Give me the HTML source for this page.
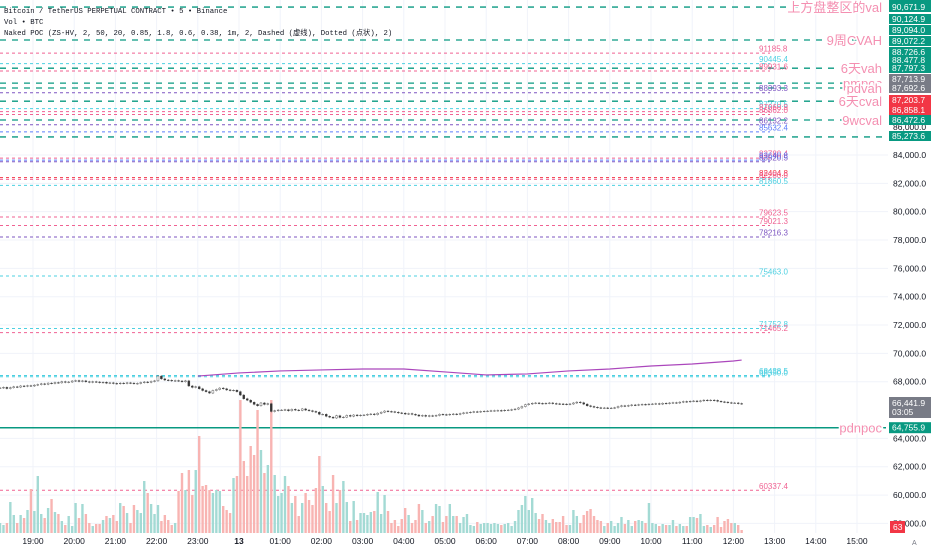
<!DOCTYPE html>
<html><head><meta charset="utf-8">
<style>
html,body{margin:0;padding:0;background:#fff;width:932px;height:550px;overflow:hidden}
svg{display:block;font-family:"Liberation Sans","Noto Sans CJK SC",sans-serif}
</style></head>
<body>
<svg id="chart" width="932" height="550" viewBox="0 0 932 550" xmlns="http://www.w3.org/2000/svg">
<g id="grid"></g>
<g id="levels"></g>
<g id="vol"></g>
<g id="vwap"></g>
<g id="candles"></g>
<g id="rtext"></g>
<g id="axis"></g>
<g id="taxis"></g>
<g font-family="Liberation Mono,Noto Sans CJK SC,monospace" font-size="7.3" fill="#131722">
<text x="4" y="13">Bitcoin / TetherUS PERPETUAL CONTRACT • 5 • Binance</text>
<text x="4" y="24">Vol • BTC</text>
<text x="4" y="35">Naked POC (ZS-HV, 2, 50, 20, 0.85, 1.8, 0.6, 0.38, 1m, 2, Dashed (虚线), Dotted (点状), 2)</text>
</g>
</svg>
<script>
const closes=[67560,67600,67520,67580,67640,67620,67700,67680,67720,67700,
67760,67800,67850,67820,67900,67880,67940,67920,68000,67960,67980,68050,
68080,68020,68060,68000,67960,68000,67980,67940,67960,67900,67920,67880,
67860,67900,67880,67920,67900,67860,67880,67940,67980,67960,68020,68060,
68400,68200,68120,68100,68060,68080,68050,68000,68060,67700,67600,67650,
67500,67380,67300,67200,67380,67450,67550,67500,67420,67380,67400,67300,
67060,66800,66700,66550,66400,66300,66500,66400,66450,65900,65950,66000,
66000,66020,65950,66050,66000,65980,66080,66000,65950,65900,65850,65700,
65700,65560,65500,65440,65600,65480,65500,65620,65560,65650,65600,65640,
65650,65700,65720,65680,65780,65850,65930,65900,65880,65850,65800,65780,
65720,65750,65700,65650,65580,65620,65560,65600,65580,65620,65700,65680,
65660,65700,65720,65700,65750,65800,65820,65850,65880,65870,65900,65920,
65930,65950,65960,65970,65950,65990,66000,66030,66070,66150,66250,66380,
66430,66480,66500,66470,66450,66480,66500,66460,66440,66430,66420,66400,
66430,66500,66560,66520,66420,66300,66250,66200,66160,66140,66150,66140,
66140,66160,66250,66300,66280,66320,66360,66350,66380,66400,66380,66420,
66430,66450,66420,66480,66460,66500,66520,66500,66560,66600,66580,66620,
66640,66600,66650,66700,66680,66700,66680,66620,66580,66560,66520,66500,
66500,66460,66441.9];
const volumes=[100,80,100,310,180,100,180,150,230,440,
220,570,190,150,250,340,210,190,120,80,170,70,
300,150,290,190,100,70,90,90,130,170,150,180,
120,300,270,200,100,280,230,200,520,400,290,190,
280,120,180,130,80,100,420,600,430,630,380,630,
970,470,480,430,400,430,420,270,230,200,550,570,
1330,720,570,870,780,1230,830,600,680,1330,580,370,
400,570,470,300,370,170,300,400,330,280,450,770,
470,300,220,580,300,430,520,310,120,320,130,200,
200,180,210,220,410,190,380,220,100,130,70,140,
250,180,100,130,290,230,100,120,170,290,270,110,
170,290,170,170,100,160,190,80,70,110,90,100,
100,90,100,90,80,90,100,70,120,230,280,370,
230,350,200,140,190,130,100,140,110,110,170,80,
80,230,170,100,180,220,240,170,130,120,70,100,
120,70,100,160,90,130,70,120,130,120,100,300,
100,90,70,90,80,80,130,70,90,70,70,160,
160,150,190,70,80,60,80,160,60,120,140,100,
100,80,30];
const vwapMinutes=[240,300,360,420,480,540,600,660,720,780,840,900,960,1020,1032];
const vwapValues=[68400,68620,68760,68830,68900,68900,68690,68480,68550,68760,68900,69110,69250,69460,69530];
const levelValues=[94440,92116,90124.9,89072.2,88726.6,87797.3,86472.6,85273.6,
91185.8,90445.4,89931.6,88393.3,87270.5,87060.9,86862.0,86132.2,85632.4,
83780.4,83640.8,83520.5,82404.8,82280.0,81860.5,79623.5,79021.3,78216.3,75463.0,71752.8,71465.2,68438.5,68350.0,60337.4];
const levelKinds=['t','t','t','t','t','t','t','t',
'pink','cyan','pink','purple','cyan','pink','pink','purple','blue',
'pink','blue','purple','red','pink','cyan','pink','pink','purple','cyan','cyan','pink','cyan','cyan','pink'];
const levelTexts=['上方盘整区的val','9周CVAH','','pmpoc','pdvah','6天cval','9wcval','','','','','','','','','','','','','','','','','','','','','','','','',''];
const pocValue=64755.9;
const priceTicks=[84000,82000,80000,78000,76000,74000,72000,70000,68000,64000,62000,60000,58000];
const timeTickLabels=['19:00','20:00','21:00','22:00','23:00','13','01:00','02:00','03:00','04:00','05:00','06:00','07:00','08:00','09:00','10:00','11:00','12:00','13:00','14:00','15:00'];
const axisBoxTexts=['90,671.9','90,124.9','89,094.0','89,072.2','88,726.6','88,477.8','87,797.3','87,713.9','87,692.6','87,203.7','86,858.1','86,472.6','85,273.6'];
const axisBoxKinds=['g','g','g','g','g','g','g','gr','gr','r','r','g','g'];
const axisBoxY=[7,19,30,41,52,60,68,79,88,100,110,120,136];

const NS='http://www.w3.org/2000/svg';
function mk(tag,attrs,parent){const e=document.createElementNS(NS,tag);for(const k in attrs)e.setAttribute(k,attrs[k]);parent.appendChild(e);return e;}
const yP=v=>155+(84000-v)*0.01417;
const xT=m=>33+m/60*41.2;
const xB=i=>xT(-48+i*5);
const yV=v=>533-v*0.1;
const colors={pink:'#f06292',cyan:'#4dd0e1',purple:'#7e57c2',blue:'#5c7cfa',red:'#f23645',t:'#089981'};

const grid=document.getElementById('grid');
timeTickLabels.forEach((t,i)=>{const l=mk('line',{x1:xT(i*60),x2:xT(i*60),y1:0,y2:533,stroke:'#f0f3fa','stroke-width':1},grid);

});
priceTicks.forEach(v=>{const l=mk('line',{x1:0,x2:888,y1:yP(v),y2:yP(v),stroke:'#f0f3fa','stroke-width':1},grid);

});

const lv=document.getElementById('levels');
levelValues.forEach((v,i)=>{const k=levelKinds[i];const y=yP(v);
 if(k==='t'){const l=mk('line',{x1:0,x2:886,y1:y,y2:y,stroke:colors.t,'stroke-width':1.3,'stroke-dasharray':'6,6'},lv);
  
  }
 else{const l=mk('line',{x1:0,x2:770,y1:y,y2:y,stroke:colors[k],'stroke-width':1,'stroke-dasharray':'3,3'},lv);
  
  
  const t=mk('text',{x:759,y:y-1.5,'font-size':8,fill:colors[k]},lv);t.textContent=String(v.toFixed(1));
  
  }
});
const pl=mk('line',{x1:0,x2:886,y1:yP(pocValue),y2:yP(pocValue),stroke:'#089981','stroke-width':1.5},lv);



const vg=document.getElementById('vol');
volumes.forEach((v,i)=>{const up=closes[i]>=(i?closes[i-1]:closes[i]);
 const r=mk('rect',{x:xB(i)-1.2,y:yV(v),width:2.4,height:533-yV(v),fill:up?'#a3dad4':'#f8b4b2'},vg);
 
 });

const wg=document.getElementById('vwap');
const wp=mk('polyline',{points:vwapMinutes.map((m,i)=>xT(m)+','+yP(vwapValues[i])).join(' '),fill:'none',stroke:'#ab47bc','stroke-width':1.2},wg);



const cg=document.getElementById('candles');
closes.forEach((c,i)=>{const o=i?closes[i-1]:c;const up=c>=o;const x=xB(i);
 const top=yP(Math.max(o,c)),bot=yP(Math.min(o,c));
 const w=mk('line',{x1:x,x2:x,y1:top-1,y2:bot+1,stroke:'#444','stroke-width':0.4},cg);
 
 
 const b=mk('rect',{x:x-1,y:top,width:2,height:Math.max(0.6,bot-top),fill:up?'#fff':'#333',stroke:'#444','stroke-width':0.4},cg);
 
 });

const rt=document.getElementById('rtext');
levelTexts.forEach((s,i)=>{if(!s)return;const y=yP(levelValues[i]);
 const t=mk('text',{x:882,y:y+5,'text-anchor':'end','font-size':13,fill:'#f48fb1',stroke:'#fff','stroke-width':3,'paint-order':'stroke'},rt);t.textContent=s;
 
 });
[['6天vah',90124.9],['pdnpoc',pocValue]].forEach(a=>{const t=mk('text',{x:882,y:yP(a[1])+5,'text-anchor':'end','font-size':13,fill:'#f48fb1',stroke:'#fff','stroke-width':3,'paint-order':'stroke'},rt);t.textContent=a[0];
 
 });

const ax=document.getElementById('axis');
priceTicks.forEach(v=>{const t=mk('text',{x:893,y:yP(v)+3,'font-size':8.5,fill:'#131722'},ax);t.textContent=v.toLocaleString('en-US',{minimumFractionDigits:1});
 
 });
const t86=mk('text',{x:893,y:130,'font-size':8.5,fill:'#131722'},ax);t86.textContent='86,000.0';


const bc={g:'#089981',gr:'#787b86',r:'#f23645'};
function box(txt,y,c,h){const r=mk('rect',{x:889,y:y-h/2,width:42,height:h,fill:c},ax);
 
 
 const t=mk('text',{x:892,y:y+3,'font-size':8.5,fill:'#fff'},ax);t.textContent=txt;
 
 }
mk('rect',{x:889,y:-6,width:42,height:8,fill:'#089981'},ax);
axisBoxTexts.forEach((s,i)=>box(s,axisBoxY[i],bc[axisBoxKinds[i]],10));
const cr=mk('rect',{x:889,y:397,width:42,height:21,fill:'#787b86'},ax);


const lp=mk('text',{x:892,y:406,'font-size':8.5,fill:'#fff'},ax);lp.textContent='66,441.9';
const cd=mk('text',{x:892,y:415,'font-size':8.5,fill:'#fff'},ax);cd.textContent='03:05';
box('64,755.9',yP(pocValue),'#089981',11);
const vb=mk('rect',{x:890,y:521,width:15,height:12,fill:'#f23645'},ax);


const vt=mk('text',{x:893,y:530,'font-size':8.5,fill:'#fff'},ax);vt.textContent='63';

const ta=document.getElementById('taxis');
timeTickLabels.forEach((s,i)=>{const t=mk('text',{x:xT(i*60),y:544,'text-anchor':'middle','font-size':8.5,fill:'#131722','font-weight':s==='13'?'bold':'normal'},ta);t.textContent=s;
 
 });
const au=mk('text',{x:912,y:545,'font-size':7,fill:'#787b86'},ta);au.textContent='A';


</script>
</body></html>
